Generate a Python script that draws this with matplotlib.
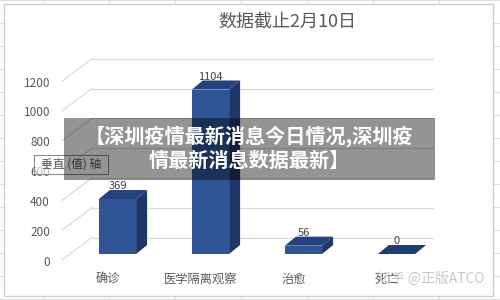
import matplotlib
matplotlib.use("Agg")
import matplotlib.pyplot as plt
from matplotlib.patches import Polygon, Rectangle

plt.rcParams['font.family'] = ['Noto Sans CJK SC', 'DejaVu Sans']

# data
categories = ["确诊", "医学隔离观察", "治愈", "死亡"]
values = [369, 1104, 56, 0]
yticks = [0, 200, 400, 600, 800, 1000, 1200]
title = "数据截止2月10日"
banner = "【深圳疫情最新消息今日情况,深圳疫\n情最新消息数据最新】"

W, H = 500, 300
fig = plt.figure(figsize=(5, 3), dpi=100)
fig.patch.set_facecolor("white")

# back layer in pixel coords: sheet + chart box + title
ov = fig.add_axes([0, 0, 1, 1])
ov.set_xlim(0, W)
ov.set_ylim(H, 0)
ov.axis("off")

for gx in range(43, W, 66):
    ov.plot([gx, gx], [0, H], color="#dedede", lw=0.8, zorder=0)
for gy in range(0, H, 23):
    ov.plot([0, W], [gy, gy], color="#dedede", lw=0.8, zorder=0)
ov.add_patch(Rectangle((4, 4), 489, 292, facecolor="white",
                       edgecolor="#cfcfcf", lw=1, zorder=1))

ov.text(287, 22, title, ha="center", va="center", fontsize=13,
        color="#595959", zorder=2)

# chart axes (front plane of the bars)
ax_l, ax_r, ax_b, ax_t = 71, 443, 254, 75.2
ax = fig.add_axes([ax_l / W, 1 - ax_b / H, (ax_r - ax_l) / W, (ax_b - ax_t) / H])
ax.set_xlim(-0.5, len(categories) - 0.5)
ax.set_ylim(0, 1200)
ax.axis("off")
ax.patch.set_alpha(0)

ux = (ax_r - ax_l) / len(categories)   # px per category
uy = (ax_b - ax_t) / 1200              # px per value unit


def px(dx, dy):
    # pixel offset -> data offset (dy positive = up)
    return dx / ux, dy / uy


# back wall gridlines and left floor diagonals
gx0, _ = px(92 - ax_l, 0)
gx1, _ = px(433 - ax_l, 0)
fx, fdy = px(62 - ax_l, -6)
_, bdy = px(0, 16.5)
for t in yticks:
    ax.plot([fx - 0.5, gx0 - 0.5], [t + fdy, t + bdy], color="#d9d9d9",
            lw=0.9, zorder=1, clip_on=False)
    ax.plot([gx0 - 0.5, gx1 - 0.5], [t + bdy, t + bdy], color="#d9d9d9",
            lw=0.9, zorder=1, clip_on=False)
    ax.text(fx - 0.5 - 12 / ux, t + fdy - 2 / uy, str(t), ha="right",
            va="center", fontsize=8.5, color="#595959", clip_on=False)

# 3d bars
bw = 0.4
ddx, ddy = px(11, 9)
front_c, top_c, side_c = "#2f5597", "#24427d", "#1e3766"
for i, (cat, v) in enumerate(zip(categories, values)):
    x0, x1 = i - bw / 2, i + bw / 2
    if v > 0:
        ax.add_patch(Polygon([(x1, 0), (x1 + ddx, ddy), (x1 + ddx, v + ddy), (x1, v)],
                             closed=True, facecolor=side_c, edgecolor="none", zorder=3))
        ax.add_patch(Rectangle((x0, 0), bw, v, facecolor=front_c,
                               edgecolor="none", zorder=4))
    ax.add_patch(Polygon([(x0, v), (x1, v), (x1 + ddx, v + ddy), (x0 + ddx, v + ddy)],
                         closed=True, facecolor=top_c if v > 0 else "#1f3c73",
                         edgecolor="none", zorder=4))
    ax.text(i, v + 13 / uy, str(v), ha="center", va="center", fontsize=8,
            color="#404040", zorder=5, clip_on=False)
    ax.text(i - 10 / ux, -25 / uy, cat, ha="center", va="center", fontsize=8.8,
            color="#595959", clip_on=False)

# front layer: tooltip, banner, watermark
top = fig.add_axes([0, 0, 1, 1])
top.set_xlim(0, W)
top.set_ylim(H, 0)
top.axis("off")
top.patch.set_alpha(0)

top.add_patch(Rectangle((34, 155), 74, 19, facecolor=(1, 1, 1, 0.6),
                        edgecolor="#8c8c8c", lw=0.8, zorder=6))
top.text(71, 164.5, "垂直 (值) 轴", ha="center", va="center", fontsize=8.5,
         color="#595959", zorder=7)

top.add_patch(Rectangle((64, 118), 371, 62, facecolor=(0, 0, 0, 0.42),
                        edgecolor="none", zorder=8))
top.text(249, 148, banner, ha="center", va="center", fontsize=14.5,
         fontweight="bold", color="white", linespacing=1.2, zorder=9)

top.text(431, 279, "知乎 @正版ATCO", ha="center", va="center", fontsize=10,
         color="#c8c8c8", zorder=9)

fig.savefig("out.png", dpi=100)
